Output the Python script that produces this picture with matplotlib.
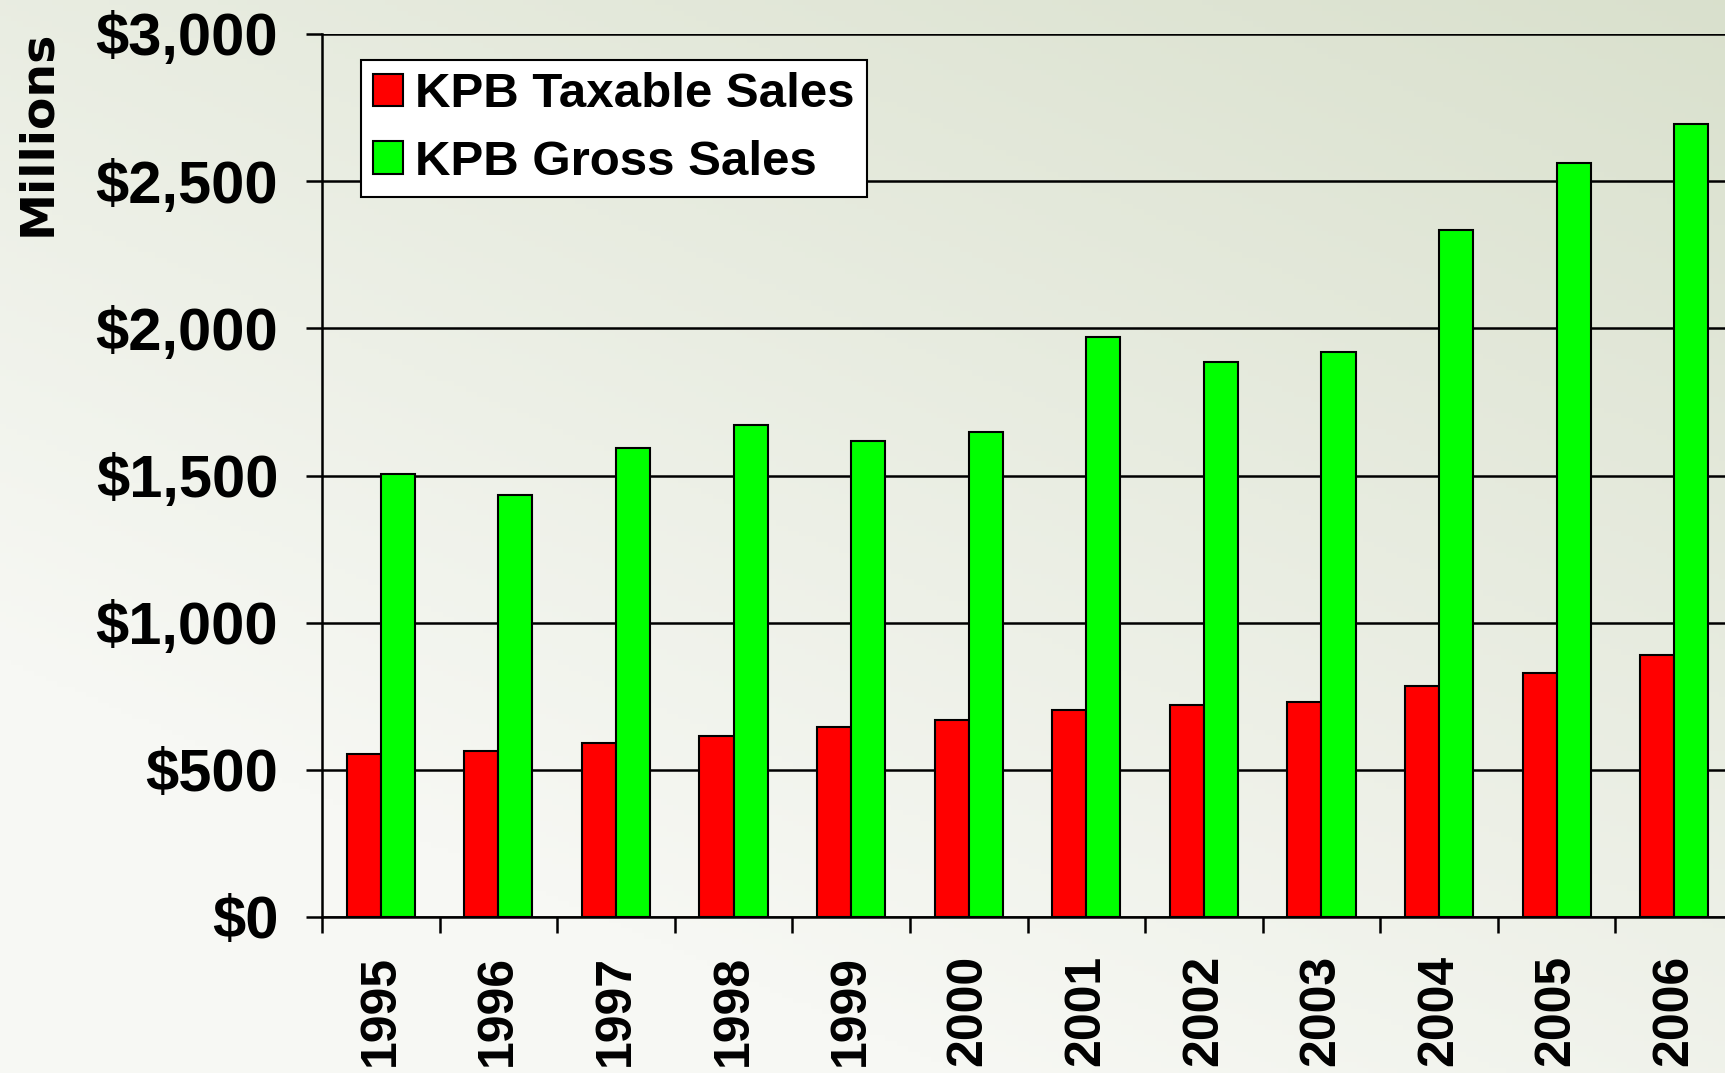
import matplotlib
matplotlib.use("Agg")
import matplotlib.pyplot as plt
import numpy as np

plt.rcParams['font.family'] = ['Liberation Sans', 'DejaVu Sans']

years = ['1995', '1996', '1997', '1998', '1999', '2000',
         '2001', '2002', '2003', '2004', '2005', '2006']
taxable = [553, 564, 590, 616, 646, 669, 702, 721, 732, 784, 829, 889]
gross = [1505, 1434, 1595, 1673, 1617, 1647, 1972, 1886, 1920, 2335, 2563, 2693]
yticks = [0, 500, 1000, 1500, 2000, 2500, 3000]
ytick_labels = ['$0', '$500', '$1,000', '$1,500', '$2,000', '$2,500', '$3,000']

W, H = 1725, 1073
fig = plt.figure(figsize=(W / 100, H / 100), dpi=100)

# soft greenish background, darker towards the top right
bg = fig.add_axes([0, 0, 1, 1], zorder=-10)
gy, gx = np.mgrid[0:1:200j, 0:1:300j]
s = np.clip(0.65 * (1 - gy) + 0.45 * gx - 0.25, 0, 1)[..., None]
light = np.array([247, 248, 244]) / 255
dark = np.array([212, 220, 198]) / 255
bg.imshow(light + (dark - light) * s, aspect='auto', extent=[0, 1, 0, 1])
bg.axis('off')

ax = fig.add_axes([322 / W, 1 - 917 / H, (1733 - 322) / W, (917 - 34) / H])
ax.set_facecolor('none')

x = np.arange(len(years))
bw = 0.29
ax.bar(x - bw / 2, taxable, bw, color='#ff0000', edgecolor='black',
       linewidth=1.5, label='KPB Taxable Sales', zorder=3)
ax.bar(x + bw / 2, gross, bw, color='#00ff00', edgecolor='black',
       linewidth=1.5, label='KPB Gross Sales', zorder=3)

ax.set_xlim(-0.5, len(years) - 0.5)
ax.set_ylim(0, 3000)
ax.set_yticks(yticks)
ax.set_yticklabels(ytick_labels, fontsize=43, fontweight='bold')
ax.tick_params(axis='y', length=11.5, width=1.8, pad=20)

ax.set_xticks(x)
ax.set_xticklabels(years, rotation=90, fontsize=36, fontweight='bold', va='top')
ax.tick_params(axis='x', which='major', length=0, pad=27)
ax.set_xticks(np.r_[-0.5, x[:-1] + 0.5], minor=True)
ax.tick_params(axis='x', which='minor', length=11.5, width=1.8)

ax.grid(axis='y', color='black', linewidth=1.8, zorder=1)
ax.set_axisbelow(True)
for side in ['top', 'right']:
    ax.spines[side].set_visible(False)
for side in ['left', 'bottom']:
    ax.spines[side].set_linewidth(1.8)

fig.text(38 / W, 1 - 30 / H, 'Millions', rotation=90, ha='center', va='top',
         fontsize=34, fontweight='bold', family='DejaVu Sans')

leg = ax.legend(loc='upper left', bbox_to_anchor=(361 / W, 1 - 60 / H),
                bbox_transform=fig.transFigure, borderaxespad=0,
                fancybox=False, framealpha=1, edgecolor='black',
                prop={'size': 35.5, 'weight': 'bold'},
                handlelength=0.6, handleheight=0.65, handletextpad=0.25,
                labelspacing=0.45, borderpad=0.25)
leg.get_frame().set_linewidth(1.5)

fig.savefig('out.png', dpi=100)
